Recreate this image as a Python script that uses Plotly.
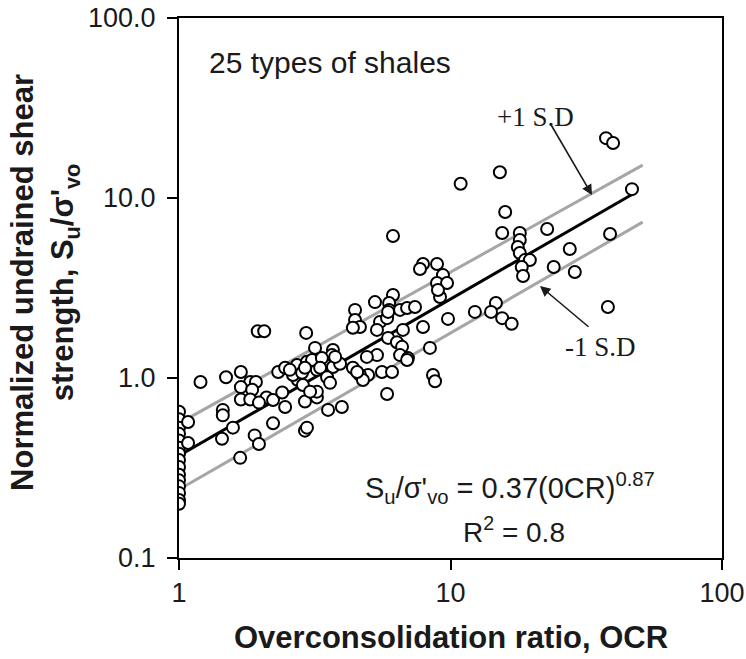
import plotly.graph_objects as go

# Overconsolidation ratio (OCR) of each test
ocr = [
    # normally consolidated samples
    1, 1, 1, 1, 1, 1, 1, 1, 1, 1, 1, 1, 1, 1, 1,
    # low OCR
    1.08, 1.08, 1.20, 1.49, 1.69, 1.83, 1.92, 1.69, 1.86, 1.69, 1.83, 2.10, 2.22, 1.97,
    1.45, 1.45, 1.58, 1.44, 1.90, 1.97, 1.68, 2.22, 2.46, 2.32, 2.46, 2.72, 2.96, 3.12,
    2.74, 2.63, 2.84, 3.17, 3.12, 2.91, 2.91, 1.95, 2.06, 2.94, 2.56, 3.22, 2.86, 3.22, 2.40,
    # medium OCR
    6.14, 7.92, 7.72, 8.92, 9.38, 8.92, 9.71, 9.15, 8.99, 9.79, 8.40, 8.62, 8.77, 5.84,
    6.14, 5.94, 5.94, 5.27, 4.45, 4.45, 4.64, 4.37, 5.50, 5.36, 5.84, 5.89, 6.52, 6.92,
    7.40, 7.92, 6.68, 5.89, 6.35, 6.63, 6.52, 6.97, 5.36, 4.92, 5.59, 6.09, 4.97, 4.64,
    4.37, 4.76, 3.69, 3.66, 3.09, 3.36, 3.31, 3.69, 3.51, 3.92, 2.91, 3.22, 3.60, 3.54,
    3.98, 3.04, 2.96, 3.76, 4.53, 6.92,
    # high OCR
    15.2, 10.9, 15.9, 15.5, 18.0, 18.0, 17.7, 18.0, 18.8, 19.6, 18.3, 18.5, 22.7, 27.5,
    24.0, 28.7, 14.7, 14.1, 15.5, 16.8, 12.3, 37.4, 39.7, 46.6, 38.7, 38.0,
]

# Normalized undrained shear strength Su/sigma'vo
su = [
    0.65, 0.59, 0.53, 0.49, 0.45, 0.41, 0.38, 0.35, 0.32, 0.29, 0.27, 0.25, 0.23, 0.21, 0.20,
    0.57, 0.435, 0.95, 1.01, 1.08, 0.95, 0.95, 0.89, 0.86, 0.76, 0.76, 0.78, 0.755, 0.73,
    0.665, 0.62, 0.53, 0.46, 0.48, 0.43, 0.36, 0.56, 0.69, 1.08, 1.14, 1.18, 1.23, 1.23,
    0.975, 1.04, 1.07, 1.47, 0.80, 0.74, 0.51, 1.82, 1.82, 1.78, 1.11, 1.11, 0.915, 0.78, 0.83,
    6.15, 4.30, 4.03, 4.30, 3.73, 3.37, 3.37, 2.82, 3.08, 2.13, 1.47, 1.04, 0.96, 0.815,
    2.89, 2.61, 2.39, 2.64, 2.39, 2.10, 1.92, 1.90, 2.05, 1.85, 2.15, 2.33, 2.39, 2.45,
    2.48, 1.92, 1.85, 1.67, 1.58, 1.49, 1.34, 1.29, 1.34, 1.31, 1.08, 1.08, 1.04, 1.04,
    1.14, 0.975, 1.43, 1.34, 1.26, 1.29, 1.14, 1.15, 1.01, 1.20, 1.14, 0.84, 0.94, 0.665,
    0.69, 0.84, 0.53, 1.31, 1.08, 1.26,
    13.9, 12.0, 8.36, 6.39, 6.39, 5.84, 5.34, 4.95, 4.52, 4.52, 4.14, 3.69, 6.73, 5.21,
    4.14, 3.88, 2.61, 2.33, 2.15, 2.00, 2.33, 21.5, 20.2, 11.2, 6.31, 2.48,
]

# Power-law trend Su/sigma'vo = c * OCR^e and the +/-1 S.D bands
fit_names = ["+1 S.D", "mean", "-1 S.D"]
fit_coef = [0.56, 0.37, 0.24]
fit_exp = [0.84, 0.87, 0.87]
fit_ocr_end = [51, 48, 51]
fit_colors = ["#a6a6a6", "#000000", "#a6a6a6"]

x_ticks = [1, 10, 100]
x_tick_text = ["1", "10", "100"]
y_ticks = [0.1, 1, 10, 100]
y_tick_text = ["0.1", "1.0", "10.0", "100.0"]

SANS = "Liberation Sans, Arial, sans-serif"
SERIF = "Liberation Serif, Times New Roman, serif"
INK = "#1a1a1a"

fig = go.Figure()

for name, c, e, x_end, col in zip(fit_names, fit_coef, fit_exp, fit_ocr_end, fit_colors):
    xs = [1, x_end]
    ys = [c * x ** e for x in xs]
    fig.add_trace(go.Scatter(
        x=xs, y=ys, mode="lines", name=name,
        line=dict(color=col, width=3), hoverinfo="skip", showlegend=False,
    ))

fig.add_trace(go.Scatter(
    x=ocr, y=su, mode="markers", name="shales", showlegend=False,
    marker=dict(symbol="circle", size=12, color="white",
                line=dict(color="black", width=2)),
))

axis_common = dict(
    type="log", showgrid=False, zeroline=False, automargin=False,
    showline=True, linecolor="black", linewidth=2, mirror=True,
    ticks="outside", ticklen=10, tickwidth=2, tickcolor="black",
    tickfont=dict(family=SANS, size=27, color=INK),
)

fig.update_layout(
    width=746, height=659,
    margin=dict(l=179, r=24, t=18, b=101, autoexpand=False),
    paper_bgcolor="white", plot_bgcolor="white",
    xaxis=dict(range=[0, 2], tickmode="array", tickvals=x_ticks,
               ticktext=x_tick_text, ticklabelstandoff=0, **axis_common),
    yaxis=dict(range=[-1, 2], tickmode="array", tickvals=y_ticks,
               ticktext=y_tick_text, ticklabelstandoff=6, **axis_common),
    showlegend=False,
)

annotations = [
    # axis titles
    dict(text="Overconsolidation ratio, OCR", xref="paper", yref="paper",
         x=0.5, y=-0.148, xanchor="center", yanchor="middle", showarrow=False,
         font=dict(family=SANS, size=31, color=INK, weight="bold")),
    dict(text="Normalized undrained shear<br>strength, S<sub>u</sub>/σ'<sub>vo</sub>",
         xref="paper", yref="paper", x=-0.248, y=0.51, textangle=-90,
         xanchor="center", yanchor="middle", showarrow=False,
         font=dict(family=SANS, size=31, color=INK, weight="bold")),
    # in-plot labels
    dict(text="25 types of shales", xref="paper", yref="paper",
         x=0.051, y=0.918, xanchor="left", yanchor="middle", showarrow=False,
         font=dict(family=SANS, size=30, color=INK)),
    dict(text="+1 S.D", xref="paper", yref="paper", x=0.656, y=0.817,
         xanchor="center", yanchor="middle", showarrow=False,
         font=dict(family=SERIF, size=27, color=INK)),
    dict(text="-1 S.D", xref="paper", yref="paper", x=0.777, y=0.391,
         xanchor="center", yanchor="middle", showarrow=False,
         font=dict(family=SERIF, size=27, color=INK)),
    dict(text="S<sub>u</sub>/σ'<sub>vo</sub> = 0.37(0CR)<sup>0.87</sup>",
         xref="paper", yref="paper", x=0.61, y=0.13,
         xanchor="center", yanchor="middle", showarrow=False,
         font=dict(family=SANS, size=29, color=INK)),
    dict(text="R<sup>2</sup> = 0.8", xref="paper", yref="paper", x=0.617, y=0.052,
         xanchor="center", yanchor="middle", showarrow=False,
         font=dict(family=SANS, size=28, color=INK)),
    # pointer arrows to the S.D bands
    dict(text="", xref="paper", yref="paper", x=0.7606, y=0.6722,
         ax=-42, ay=-72, axref="pixel", ayref="pixel", showarrow=True,
         arrowhead=2, arrowsize=1.3, arrowwidth=1.6, arrowcolor=INK),
    dict(text="", xref="paper", yref="paper", x=0.6648, y=0.5037,
         ax=50, ay=42, axref="pixel", ayref="pixel", showarrow=True,
         arrowhead=2, arrowsize=1.3, arrowwidth=1.6, arrowcolor=INK),
]
fig.update_layout(annotations=annotations)

fig.write_html("out.html")
